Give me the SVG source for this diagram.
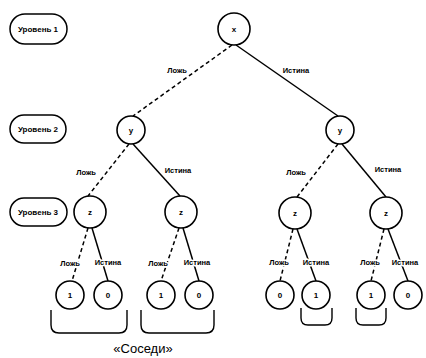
<svg xmlns="http://www.w3.org/2000/svg" width="426" height="358" viewBox="0 0 426 358">
<style>
.n{fill:#fff;stroke:#000;stroke-width:1.6}
.lv{fill:#fff;stroke:#000;stroke-width:1.5}
.t{font-family:"Liberation Sans",Arial,sans-serif;font-size:8px;font-weight:bold;text-anchor:middle;fill:#000}
.lb{font-family:"Liberation Sans",Arial,sans-serif;font-size:7.5px;font-weight:bold;text-anchor:middle;fill:#000;stroke:#fff;stroke-width:3;paint-order:stroke;stroke-linejoin:round}
.s{stroke:#000;stroke-width:1.5;fill:none}
.d{stroke:#000;stroke-width:1.5;fill:none;stroke-dasharray:4,3}
.br{stroke:#000;stroke-width:1.4;fill:none}
</style>
<g id="levels">
<g id="level1"><rect class="lv" x="10" y="14" width="57" height="30" rx="15"/><text class="t" x="38" y="32">Уровень 1</text></g>
<g id="level2"><rect class="lv" x="10" y="115" width="56" height="28" rx="14"/><text class="t" x="38" y="132">Уровень 2</text></g>
<g id="level3"><rect class="lv" x="10" y="198" width="57" height="28" rx="14"/><text class="t" x="38" y="215">Уровень 3</text></g>
</g>
<g id="connectors">
<line class="d" x1="232" y1="45" x2="133" y2="116"/>
<line class="s" x1="236" y1="45" x2="338" y2="116"/>
<line class="d" x1="129" y1="144" x2="88" y2="196"/>
<line class="s" x1="133" y1="144" x2="180" y2="196"/>
<line class="d" x1="338" y1="144" x2="297" y2="197"/>
<line class="s" x1="342" y1="144" x2="386" y2="197"/>
<line class="d" x1="88" y1="228" x2="72" y2="281"/>
<line class="s" x1="92" y1="228" x2="108" y2="281"/>
<line class="d" x1="179" y1="228" x2="161" y2="281"/>
<line class="s" x1="183" y1="228" x2="199" y2="281"/>
<line class="d" x1="293" y1="229" x2="280" y2="281"/>
<line class="s" x1="297" y1="229" x2="316" y2="281"/>
<line class="d" x1="384" y1="229" x2="371" y2="281"/>
<line class="s" x1="388" y1="229" x2="408" y2="281"/>
<text class="lb" x="177" y="73">Ложь</text>
<text class="lb" x="296" y="73">Истина</text>
<text class="lb" x="86" y="175">Ложь</text>
<text class="lb" x="178" y="173">Истина</text>
<text class="lb" x="296" y="175">Ложь</text>
<text class="lb" x="388" y="172">Истина</text>
<text class="lb" x="70" y="266">Ложь</text>
<text class="lb" x="108" y="265">Истина</text>
<text class="lb" x="158" y="266">Ложь</text>
<text class="lb" x="197" y="265">Истина</text>
<text class="lb" x="279" y="265">Ложь</text>
<text class="lb" x="316" y="265">Истина</text>
<text class="lb" x="370" y="265">Ложь</text>
<text class="lb" x="405" y="265">Истина</text>
</g>
<g id="root"><circle class="n" cx="234" cy="29" r="16"/><text class="t" x="234" y="32">x</text></g>
<g id="y-left"><circle class="n" cx="131" cy="130" r="14"/><text class="t" x="131" y="133">y</text></g>
<g id="y-right"><circle class="n" cx="340" cy="130" r="14"/><text class="t" x="340" y="133">y</text></g>
<g id="z1"><circle class="n" cx="90" cy="212" r="16"/><text class="t" x="90" y="215">z</text></g>
<g id="z2"><circle class="n" cx="181" cy="212" r="16"/><text class="t" x="181" y="215">z</text></g>
<g id="z3"><circle class="n" cx="295" cy="213" r="16"/><text class="t" x="295" y="216">z</text></g>
<g id="z4"><circle class="n" cx="386" cy="213" r="16"/><text class="t" x="386" y="216">z</text></g>
<g id="leaf1"><circle class="n" cx="70" cy="295" r="14"/><text class="t" x="70" y="298">1</text></g>
<g id="leaf2"><circle class="n" cx="108" cy="295" r="14"/><text class="t" x="108" y="298">0</text></g>
<g id="leaf3"><circle class="n" cx="161" cy="295" r="14"/><text class="t" x="161" y="298">1</text></g>
<g id="leaf4"><circle class="n" cx="199" cy="295" r="14"/><text class="t" x="199" y="298">0</text></g>
<g id="leaf5"><circle class="n" cx="280" cy="295" r="14"/><text class="t" x="280" y="298">0</text></g>
<g id="leaf6"><circle class="n" cx="316" cy="295" r="14"/><text class="t" x="316" y="298">1</text></g>
<g id="leaf7"><circle class="n" cx="371" cy="295" r="14"/><text class="t" x="371" y="298">1</text></g>
<g id="leaf8"><circle class="n" cx="408" cy="295" r="14"/><text class="t" x="408" y="298">0</text></g>
<g id="brackets">
<path class="br" d="M51,310 v15 q0,8 8,8 h60 q8,0 8,-8 v-15"/>
<path class="br" d="M141,310 v15 q0,8 8,8 h57 q8,0 8,-8 v-15"/>
<path class="br" d="M301,308 v10 q0,7 7,7 h17 q7,0 7,-7 v-10"/>
<path class="br" d="M356,308 v10 q0,7 7,7 h16 q7,0 7,-7 v-10"/>
<text x="143" y="353" font-family="Liberation Sans, Arial, sans-serif" font-size="13" text-anchor="middle">«Соседи»</text>
</g>
</svg>
